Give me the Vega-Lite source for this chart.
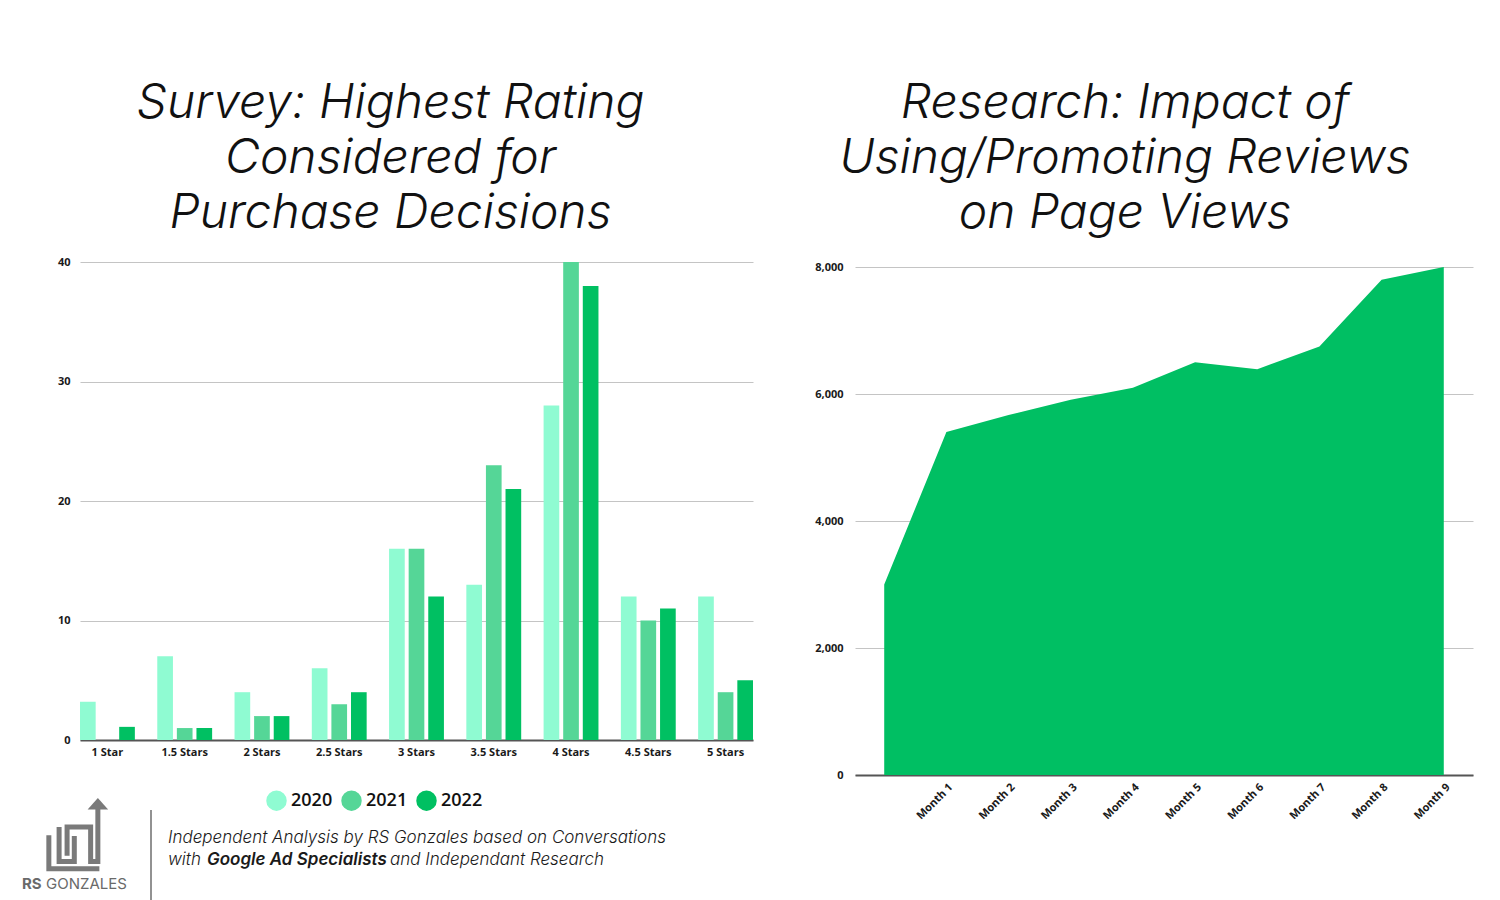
{
  "$schema": "https://vega.github.io/schema/vega-lite/v6.json",
  "background": "white",
  "padding": {"left": 22, "top": 80, "right": 5, "bottom": 0},
  "spacing": 61,
  "resolve": {"scale": {"color": "independent"}, "legend": {"color": "independent"}},
  "config": {
    "view": {"stroke": null},
    "font": "Inter",
    "axis": {"labelFont": "Open Sans", "labelFontWeight": "bold", "labelColor": "#1a1a1a", "labelFontSize": 11, "ticks": false, "title": null},
    "title": {"font": "Inter", "fontStyle": "italic", "fontWeight": 300, "fontSize": 48, "color": "#111111", "lineHeight": 55, "anchor": "middle"}
  },
  "hconcat": [
    {
      "spacing": 0,
      "bounds": "flush",
      "resolve": {"scale": {"color": "independent"}, "legend": {"color": "independent"}},
      "vconcat": [
        {
          "width": 673,
          "height": 478,
          "title": {"text": ["Survey: Highest Rating", "Considered for", "Purchase Decisions"], "offset": 18, "dx": -26},
          "data": {"values": [
            {"rating": "1 Star", "year": "2020", "share": 3.2},
            {"rating": "1 Star", "year": "2021", "share": 0},
            {"rating": "1 Star", "year": "2022", "share": 1.1},
            {"rating": "1.5 Stars", "year": "2020", "share": 7},
            {"rating": "1.5 Stars", "year": "2021", "share": 1},
            {"rating": "1.5 Stars", "year": "2022", "share": 1},
            {"rating": "2 Stars", "year": "2020", "share": 4},
            {"rating": "2 Stars", "year": "2021", "share": 2},
            {"rating": "2 Stars", "year": "2022", "share": 2},
            {"rating": "2.5 Stars", "year": "2020", "share": 6},
            {"rating": "2.5 Stars", "year": "2021", "share": 3},
            {"rating": "2.5 Stars", "year": "2022", "share": 4},
            {"rating": "3 Stars", "year": "2020", "share": 16},
            {"rating": "3 Stars", "year": "2021", "share": 16},
            {"rating": "3 Stars", "year": "2022", "share": 12},
            {"rating": "3.5 Stars", "year": "2020", "share": 13},
            {"rating": "3.5 Stars", "year": "2021", "share": 23},
            {"rating": "3.5 Stars", "year": "2022", "share": 21},
            {"rating": "4 Stars", "year": "2020", "share": 28},
            {"rating": "4 Stars", "year": "2021", "share": 40},
            {"rating": "4 Stars", "year": "2022", "share": 38},
            {"rating": "4.5 Stars", "year": "2020", "share": 12},
            {"rating": "4.5 Stars", "year": "2021", "share": 10},
            {"rating": "4.5 Stars", "year": "2022", "share": 11},
            {"rating": "5 Stars", "year": "2020", "share": 12},
            {"rating": "5 Stars", "year": "2021", "share": 4},
            {"rating": "5 Stars", "year": "2022", "share": 5}
          ]},
          "mark": {"type": "bar"},
          "encoding": {
            "x": {"field": "rating", "type": "nominal", "sort": null,
                  "scale": {"paddingInner": 0.29, "paddingOuter": 0},
                  "axis": {"labelAngle": 0, "labelPadding": 6, "domain": true, "domainColor": "#555555", "domainWidth": 2, "grid": false}},
            "xOffset": {"field": "year", "type": "nominal", "scale": {"paddingInner": 0.2, "paddingOuter": 0}},
            "y": {"field": "share", "type": "quantitative", "scale": {"domain": [0, 40]},
                  "axis": {"values": [0, 10, 20, 30, 40], "domain": false, "grid": true, "gridColor": "#c4c4c4", "labelPadding": 10}},
            "color": {"field": "year", "type": "nominal",
                      "scale": {"domain": ["2020", "2021", "2022"], "range": ["#8ffbd2", "#55d697", "#00c062"]},
                      "legend": {"orient": "none", "legendX": 186, "legendY": 528, "direction": "horizontal", "title": null, "symbolType": "circle", "symbolSize": 420, "symbolStrokeWidth": 0, "symbolOpacity": 1, "labelFontSize": 18, "labelFontWeight": 600, "labelColor": "#111111", "labelFont": "Open Sans", "columnPadding": 8, "labelOffset": 4}}
          }
        },
        {
          "width": 600,
          "height": 158,
          "data": {"values": [{}]},
          "layer": [
            {"mark": {"type": "rule", "color": "#6e6e6e", "strokeWidth": 1.5},
             "encoding": {"x": {"value": 71}, "y": {"value": 70}, "y2": {"value": 160}}},
            {"mark": {"type": "text", "align": "left", "baseline": "middle", "font": "Inter", "fontStyle": "italic", "fontWeight": 300, "fontSize": 17, "color": "#1a1a1a", "text": "Independent Analysis by RS Gonzales based on Conversations"},
             "encoding": {"x": {"value": 88}, "y": {"value": 98}}},
            {"mark": {"type": "text", "align": "left", "baseline": "middle", "font": "Inter", "fontStyle": "italic", "fontWeight": 300, "fontSize": 17, "color": "#1a1a1a", "text": "with"},
             "encoding": {"x": {"value": 88}, "y": {"value": 120}}},
            {"mark": {"type": "text", "align": "left", "baseline": "middle", "font": "Inter", "fontStyle": "italic", "fontWeight": 600, "fontSize": 17, "color": "#1a1a1a", "text": "Google Ad Specialists"},
             "encoding": {"x": {"value": 127}, "y": {"value": 120}}},
            {"mark": {"type": "text", "align": "left", "baseline": "middle", "font": "Inter", "fontStyle": "italic", "fontWeight": 300, "fontSize": 17, "color": "#1a1a1a", "text": "and Independant Research"},
             "encoding": {"x": {"value": 310}, "y": {"value": 120}}},
            {"mark": {"type": "point", "filled": false, "stroke": "#7a7a7a", "strokeWidth": 5, "size": 5776, "opacity": 1,
                      "shape": "M-0.82,-0.02 V0.86 H0.51 M-0.55,-0.24 V0.67 H-0.15 V0 M-0.34,0.52 V-0.24 H0.28 V0.67 H0.47 V-0.75"},
             "encoding": {"x": {"value": 0}, "y": {"value": 96}}},
            {"mark": {"type": "point", "filled": true, "color": "#7a7a7a", "size": 5776, "opacity": 1,
                      "shape": "M0.2,-0.7 L0.47,-1 L0.74,-0.7 Z"},
             "encoding": {"x": {"value": 0}, "y": {"value": 96}}},
            {"mark": {"type": "text", "align": "left", "baseline": "alphabetic", "font": "Inter", "fontWeight": "bold", "fontSize": 15, "color": "#6a6a6a", "text": "RS"},
             "encoding": {"x": {"value": -58}, "y": {"value": 149}}},
            {"mark": {"type": "text", "align": "left", "baseline": "alphabetic", "font": "Inter", "fontWeight": 400, "fontSize": 15, "color": "#6a6a6a", "text": "GONZALES"},
             "encoding": {"x": {"value": -34}, "y": {"value": 149}}}
          ]
        }
      ]
    },
    {
      "width": 618,
      "height": 513,
      "title": {"text": ["Research: Impact of", "Using/Promoting Reviews", "on Page Views"], "offset": 23, "dx": -39},
      "data": {"values": [
        {"month": "Start", "views": 3000},
        {"month": "Month 1", "views": 5400},
        {"month": "Month 2", "views": 5670},
        {"month": "Month 3", "views": 5910},
        {"month": "Month 4", "views": 6100},
        {"month": "Month 5", "views": 6500},
        {"month": "Month 6", "views": 6390},
        {"month": "Month 7", "views": 6750},
        {"month": "Month 8", "views": 7800},
        {"month": "Month 9", "views": 8000}
      ]},
      "mark": {"type": "area", "color": "#00bf63", "opacity": 1},
      "encoding": {
        "x": {"field": "month", "type": "ordinal", "sort": null,
              "scale": {"type": "point", "padding": 0.47},
              "axis": {"labelAngle": -45, "labelExpr": "datum.label == 'Start' ? '' : datum.label", "labelPadding": 6, "domain": true, "domainColor": "#555555", "domainWidth": 2, "grid": false}},
        "y": {"field": "views", "type": "quantitative", "scale": {"domain": [0, 8079], "nice": false},
              "axis": {"values": [0, 2000, 4000, 6000, 8000], "format": ",.0f", "domain": false, "grid": true, "gridColor": "#c4c4c4", "labelPadding": 12}}
      }
    }
  ]
}
